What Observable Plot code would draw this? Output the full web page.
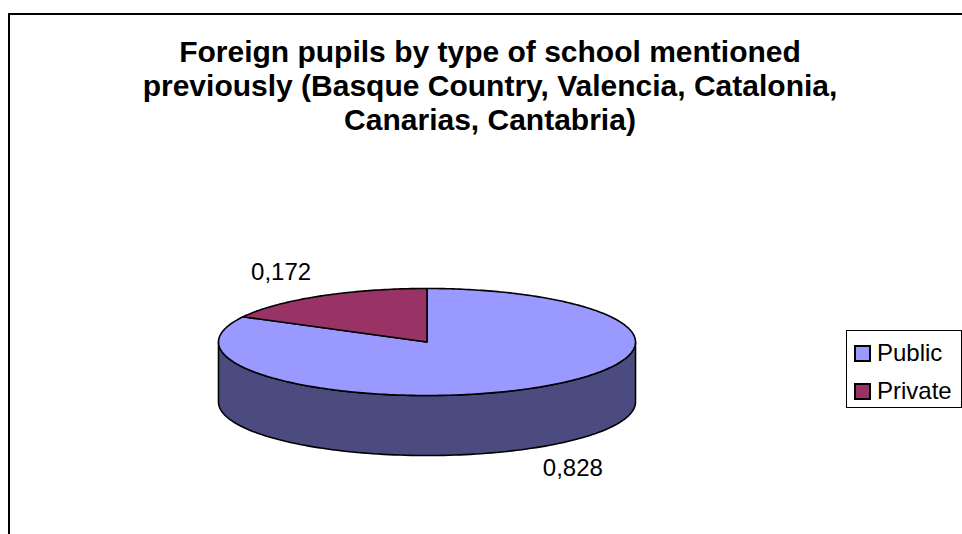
<!DOCTYPE html>
<html><head><meta charset="utf-8">
<script src="https://cdn.jsdelivr.net/npm/d3@7"></script>
<script src="https://cdn.jsdelivr.net/npm/@observablehq/plot@0.6"></script>
<style>
body{margin:0;background:#fff;font-family:"Liberation Sans",Arial,sans-serif;}
#wrap{position:relative;width:962px;height:534px;overflow:hidden;background:#fff;}
#frame{position:absolute;left:8px;top:13px;width:1000px;height:600px;border-left:2px solid #000;border-top:2px solid #000;}
#chart{position:absolute;left:0;top:0;}
#title{position:absolute;left:0;width:980px;top:35px;text-align:center;font-weight:bold;font-size:30px;line-height:34px;color:#000;}
#legend{position:absolute;left:846px;top:330px;width:114px;height:76px;border:1px solid #000;background:#fff;}
.item{position:absolute;left:0;height:28px;line-height:28px;font-size:24px;white-space:nowrap;}
.sw{position:absolute;left:7px;top:6px;width:17px;height:17px;box-sizing:border-box;border:2px solid #000;}
.lbl{position:absolute;left:30px;top:0;}
</style></head><body>
<div id="wrap"><div id="frame"></div><div id="chart"></div><div id="title"></div><div id="legend"></div></div>
<script>
const titleLines = ["Foreign pupils by type of school mentioned", "previously (Basque Country, Valencia, Catalonia,", "Canarias, Cantabria)"];
const categories = ["Public", "Private"];
const values = [0.828, 0.172];
const valueLabels = ["0,828", "0,172"];
const topColors = ["#9999FF", "#993366"];
const sideColors = ["#4B4B7F", "#4C1A33"];

document.getElementById("title").innerHTML = titleLines.join("<br>");

// layout constants
const W = 962, H = 534;
const cx = 426.5, cy = 341.5, rx = 208.5, ry = 53.5, depth = 60;

const arcs = d3.pie().sort(null).value(d => d)(values);
const pt = (a, dz, shape) => ({x: cx + rx * Math.sin(a), y: cy - ry * Math.cos(a) + dz, shape});

const marks = [];
// side walls (front half only: angles between PI/2 and 3PI/2)
arcs.forEach((arc, i) => {
  const s = Math.max(arc.startAngle, Math.PI / 2), e = Math.min(arc.endAngle, 3 * Math.PI / 2);
  if (e <= s) return;
  const n = 120, pts = [];
  for (let k = 0; k <= n; k++) pts.push(pt(s + (e - s) * k / n, 0, "side" + i));
  for (let k = n; k >= 0; k--) pts.push(pt(s + (e - s) * k / n, depth, "side" + i));
  pts.push(pts[0]);
  marks.push(Plot.line(pts, {x: "x", y: "y", fill: sideColors[i], stroke: "#000", strokeWidth: 1.6, strokeLinejoin: "round"}));
});
// top faces
arcs.forEach((arc, i) => {
  const n = Math.max(10, Math.round(200 * (arc.endAngle - arc.startAngle) / Math.PI));
  const pts = [{x: cx, y: cy}];
  for (let k = 0; k <= n; k++) pts.push(pt(arc.startAngle + (arc.endAngle - arc.startAngle) * k / n, 0));
  pts.push({x: cx, y: cy});
  marks.push(Plot.line(pts, {x: "x", y: "y", fill: topColors[i], stroke: "#000", strokeWidth: 1.6, strokeLinejoin: "round"}));
});
// value labels
const labelData = arcs.map((arc, i) => {
  const m = (arc.startAngle + arc.endAngle) / 2;
  const c = Math.cos(m);
  return {
    x: cx + 1.36 * rx * Math.sin(m),
    y: cy - 1.52 * ry * c + (c < 0 ? 0.95 * depth : 0),
    text: valueLabels[i]
  };
});
marks.push(Plot.text(labelData, {x: "x", y: "y", text: "text", fontSize: 24, fill: "#000", fontFamily: "Liberation Sans, Arial, sans-serif", textAnchor: "middle"}));

const chart = Plot.plot({
  width: W, height: H,
  margin: 0,
  x: {domain: [0, W], range: [0, W], axis: null},
  y: {domain: [0, H], range: [0, H], axis: null},
  style: {background: "transparent", overflow: "visible"},
  marks
});
document.getElementById("chart").appendChild(chart);

// legend
const legend = document.getElementById("legend");
categories.forEach((c, i) => {
  const item = document.createElement("div");
  item.className = "item";
  item.style.top = (8 + i * 38) + "px";
  item.style.width = "114px";
  const sw = document.createElement("span");
  sw.className = "sw";
  sw.style.background = topColors[i];
  const lb = document.createElement("span");
  lb.className = "lbl";
  lb.textContent = c;
  item.appendChild(sw); item.appendChild(lb);
  legend.appendChild(item);
});
</script>
</body></html>
